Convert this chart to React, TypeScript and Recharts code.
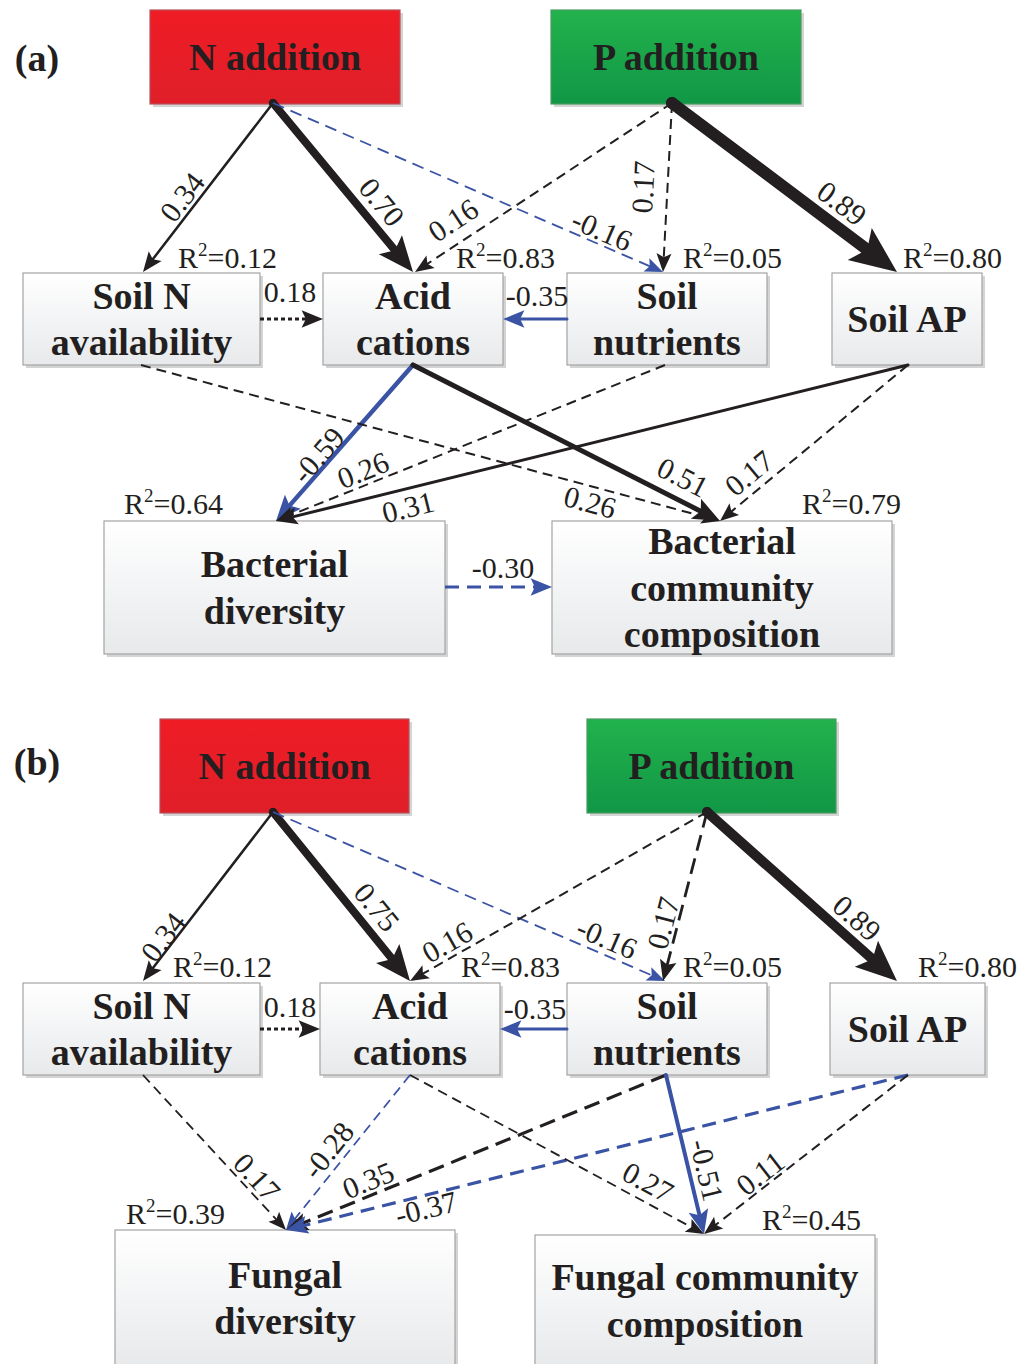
import {
  ScatterChart,
  Scatter,
  XAxis,
  YAxis,
  ReferenceArea,
  ReferenceLine,
  ReferenceDot,
} from "recharts";

const W = 1036;
const H = 1364;
const BLACK = "#231f20";
const BLUE = "#3a53a4";
const FONT = "'Liberation Serif', 'Times New Roman', serif";

type Path = { from: string; to: string; coef: number; sig: boolean };

// ---- values ----
const panelTags = ["(a)", "(b)"];

const nodeTextA: Record<string, string[]> = {
  N: ["N addition"],
  P: ["P addition"],
  SN: ["Soil N", "availability"],
  AC: ["Acid", "cations"],
  NU: ["Soil", "nutrients"],
  AP: ["Soil AP"],
  D: ["Bacterial", "diversity"],
  C: ["Bacterial", "community", "composition"],
};
const nodeTextB: Record<string, string[]> = {
  ...nodeTextA,
  D: ["Fungal", "diversity"],
  C: ["Fungal community", "composition"],
};

const r2Nodes = ["SN", "AC", "NU", "AP", "D", "C"];
const r2A = [0.12, 0.83, 0.05, 0.8, 0.64, 0.79];
const r2B = [0.12, 0.83, 0.05, 0.8, 0.39, 0.45];

const pathsA: Path[] = [
  { from: "N", to: "SN", coef: 0.34, sig: true },
  { from: "N", to: "AC", coef: 0.7, sig: true },
  { from: "N", to: "NU", coef: -0.16, sig: false },
  { from: "P", to: "AC", coef: 0.16, sig: false },
  { from: "P", to: "NU", coef: 0.17, sig: false },
  { from: "P", to: "AP", coef: 0.89, sig: true },
  { from: "SN", to: "AC", coef: 0.18, sig: false },
  { from: "NU", to: "AC", coef: -0.35, sig: true },
  { from: "AC", to: "D", coef: -0.59, sig: true },
  { from: "NU", to: "D", coef: 0.26, sig: false },
  { from: "AP", to: "D", coef: 0.31, sig: true },
  { from: "SN", to: "C", coef: 0.26, sig: false },
  { from: "AC", to: "C", coef: 0.51, sig: true },
  { from: "AP", to: "C", coef: 0.17, sig: false },
  { from: "D", to: "C", coef: -0.3, sig: false },
];

const pathsB: Path[] = [
  { from: "N", to: "SN", coef: 0.34, sig: true },
  { from: "N", to: "AC", coef: 0.75, sig: true },
  { from: "N", to: "NU", coef: -0.16, sig: false },
  { from: "P", to: "AC", coef: 0.16, sig: false },
  { from: "P", to: "NU", coef: 0.17, sig: false },
  { from: "P", to: "AP", coef: 0.89, sig: true },
  { from: "SN", to: "AC", coef: 0.18, sig: false },
  { from: "NU", to: "AC", coef: -0.35, sig: true },
  { from: "SN", to: "D", coef: 0.17, sig: false },
  { from: "AC", to: "D", coef: -0.28, sig: false },
  { from: "NU", to: "D", coef: 0.35, sig: false },
  { from: "AP", to: "D", coef: -0.37, sig: false },
  { from: "AC", to: "C", coef: 0.27, sig: false },
  { from: "NU", to: "C", coef: -0.51, sig: true },
  { from: "AP", to: "C", coef: 0.11, sig: false },
];

// ---- layout (diagram coordinates) ----
const tagPos = [
  [37, 58],
  [37, 762],
];

const boxesA: Record<string, number[]> = {
  N: [150, 400, 10, 104],
  P: [551, 801, 10, 104],
  SN: [23, 260, 273, 365],
  AC: [323, 503, 273, 365],
  NU: [567, 767, 273, 365],
  AP: [832, 982, 273, 365],
  D: [104, 445, 521, 654],
  C: [552, 892, 521, 654],
};
const boxesB: Record<string, number[]> = {
  N: [160, 409, 719, 813],
  P: [587, 836, 719, 813],
  SN: [23, 260, 983, 1075],
  AC: [320, 500, 983, 1075],
  NU: [567, 767, 983, 1075],
  AP: [830, 985, 983, 1075],
  D: [115, 455, 1230, 1366],
  C: [535, 875, 1235, 1366],
};

const r2PosA = [
  [178, 257],
  [456, 257],
  [683, 257],
  [903, 257],
  [124, 503],
  [802, 503],
];
const r2PosB = [
  [173, 966],
  [461, 966],
  [683, 966],
  [918, 966],
  [126, 1213],
  [762, 1219],
];

// x1, y1, x2, y2, label x, label y, stroke width, dash, start dot
type Geo = [number, number, number, number, number, number, number, string, boolean?];
const geoA: Geo[] = [
  [273, 103, 143, 272, 182, 197, 2.5, "", true],
  [273, 103, 413, 272, 382, 202, 8, ""],
  [273, 103, 663, 272, 602, 230, 1.8, "12 7"],
  [672, 103, 415, 272, 453, 220, 2, "10 6"],
  [672, 103, 663, 272, 643, 187, 2, "10 6"],
  [672, 103, 897, 272, 842, 203, 12, "", true],
  [260, 319, 323, 319, 290, 291, 3, "4 3"],
  [567, 319, 503, 319, 537, 295, 3, ""],
  [413, 365, 276, 521, 318, 455, 4.5, ""],
  [665, 365, 276, 521, 363, 470, 2, "10 6"],
  [908, 365, 276, 521, 408, 507, 3, ""],
  [141, 365, 720, 521, 590, 502, 2, "10 6"],
  [413, 365, 720, 521, 683, 477, 5, ""],
  [908, 365, 720, 521, 749, 473, 2, "10 6"],
  [445, 587, 552, 587, 503, 567, 3, "14 8"],
];
const geoB: Geo[] = [
  [273, 812, 143, 981, 163, 937, 2.5, "", true],
  [273, 812, 410, 981, 377, 907, 8, ""],
  [273, 812, 665, 981, 607, 938, 1.8, "12 7"],
  [707, 812, 410, 981, 447, 942, 2, "10 6"],
  [707, 812, 663, 981, 663, 923, 2.8, "16 8"],
  [707, 812, 897, 981, 857, 918, 10, "", true],
  [260, 1029, 320, 1029, 290, 1006, 3, "4 3"],
  [567, 1029, 500, 1029, 535, 1008, 3, ""],
  [143, 1075, 286, 1230, 257, 1177, 1.8, "10 6"],
  [410, 1075, 286, 1230, 328, 1150, 1.8, "10 6"],
  [666, 1075, 286, 1230, 368, 1180, 3.2, "16 8"],
  [908, 1075, 286, 1230, 426, 1208, 3.2, "14 8"],
  [410, 1075, 704, 1234, 648, 1182, 1.8, "10 6"],
  [666, 1075, 704, 1234, 707, 1170, 4, ""],
  [908, 1075, 704, 1234, 760, 1173, 2, "10 6"],
];

const fmt = (v: number) => (v < 0 ? "-" : "") + Math.abs(v).toFixed(2);

const readAngle = (dx: number, dy: number) => {
  let a = (Math.atan2(dy, dx) * 180) / Math.PI;
  if (a > 90) a -= 180;
  if (a <= -90) a += 180;
  return a;
};

const boxFill: Record<string, [string, string, string]> = {
  N: ["#ef1c25", "#df1f29", "#b4515a"],
  P: ["#22b24c", "#119746", "#4a9a62"],
};

const renderArrow = (p: any, g: Geo, color: string) => {
  const { x1, y1, x2, y2 } = p;
  const w = g[6];
  const dx = x2 - x1;
  const dy = y2 - y1;
  const len = Math.hypot(dx, dy);
  const ux = dx / len;
  const uy = dy / len;
  const nx = -uy;
  const ny = ux;
  const hl = 13 + 2.8 * w;
  const hw = 5 + 1.25 * w;
  const bx = x2 - ux * hl;
  const by = y2 - uy * hl;
  const kx = x2 - ux * hl * 0.8;
  const ky = y2 - uy * hl * 0.8;
  const pts = [
    [x2, y2],
    [bx + nx * hw, by + ny * hw],
    [kx, ky],
    [bx - nx * hw, by - ny * hw],
  ]
    .map((q) => q.join(","))
    .join(" ");
  return (
    <g>
      <line
        x1={x1}
        y1={y1}
        x2={kx + ux * 1}
        y2={ky + uy * 1}
        stroke={color}
        strokeWidth={w}
        strokeDasharray={g[7] || undefined}
        strokeLinecap={g[7] ? "butt" : "round"}
      />
      <polygon points={pts} fill={color} />
      {g[8] && <circle cx={x1} cy={y1} r={Math.max(4, w / 2)} fill={BLACK} />}
    </g>
  );
};

function panelElements(
  key: string,
  boxes: Record<string, number[]>,
  paths: Path[],
  geo: Geo[],
  r2: number[],
  r2Pos: number[][],
) {
  const out: any[] = [];
  Object.keys(boxes).forEach((id) => {
    const [x1, x2, y1, y2] = boxes[id];
    const fill = boxFill[id] || ["#ffffff", "#e7e9eb", "#a3a3a3"];
    const gid = `g-${key}-${id}`;
    out.push(
      <ReferenceArea
        key={`box-${key}-${id}`}
        x1={x1}
        x2={x2}
        y1={y1}
        y2={y2}
        ifOverflow="visible"
        shape={(p: any) => (
          <g>
            <defs>
              <linearGradient id={gid} x1="0" y1="0" x2="0" y2="1">
                <stop offset="0%" stopColor={fill[0]} />
                <stop offset="100%" stopColor={fill[1]} />
              </linearGradient>
            </defs>
            <rect x={p.x + 3} y={p.y + 3} width={p.width} height={p.height} fill="#d4d4d4" />
            <rect
              x={p.x}
              y={p.y}
              width={p.width}
              height={p.height}
              fill={`url(#${gid})`}
              stroke={fill[2]}
              strokeWidth={1.2}
            />
          </g>
        )}
      />,
    );
  });
  paths.forEach((pa, i) => {
    const g = geo[i];
    const color = pa.coef < 0 ? BLUE : BLACK;
    out.push(
      <ReferenceLine
        key={`ln-${key}-${i}`}
        segment={[
          { x: g[0], y: g[1] },
          { x: g[2], y: g[3] },
        ]}
        ifOverflow="visible"
        shape={(p: any) => renderArrow(p, g, color)}
      />,
    );
  });
  paths.forEach((pa, i) => {
    const g = geo[i];
    const ang = readAngle(g[2] - g[0], g[3] - g[1]);
    out.push(
      <ReferenceDot
        key={`lb-${key}-${i}`}
        x={g[4]}
        y={g[5]}
        ifOverflow="visible"
        shape={(p: any) => (
          <text
            x={p.cx}
            y={p.cy}
            transform={`rotate(${ang} ${p.cx} ${p.cy})`}
            textAnchor="middle"
            dominantBaseline="central"
            fontFamily={FONT}
            fontSize={30}
            fill={BLACK}
          >
            {fmt(pa.coef)}
          </text>
        )}
      />,
    );
  });
  r2.forEach((v, i) => {
    out.push(
      <ReferenceDot
        key={`r2-${key}-${r2Nodes[i]}`}
        x={r2Pos[i][0]}
        y={r2Pos[i][1]}
        ifOverflow="visible"
        shape={(p: any) => (
          <text x={p.cx} y={p.cy + 11} fontFamily={FONT} fontSize={30} fill={BLACK}>
            R
            <tspan dy={-12} fontSize={19}>
              2
            </tspan>
            <tspan dy={12}>={v.toFixed(2)}</tspan>
          </text>
        )}
      />,
    );
  });
  return out;
}

const nodeCenters = (
  text: Record<string, string[]>,
  boxes: Record<string, number[]>,
) =>
  Object.keys(boxes).map((id) => ({
    id,
    lines: text[id],
    x: (boxes[id][0] + boxes[id][1]) / 2,
    y: Math.min((boxes[id][2] + boxes[id][3]) / 2, boxes[id][2] + 68),
  }));

const nodeData = [
  ...nodeCenters(nodeTextA, boxesA),
  ...nodeCenters(nodeTextB, boxesB),
];

const NodeLabel = (p: any) => {
  const lines: string[] = p.payload.lines;
  const gap = 46.5;
  const top = p.cy - ((lines.length - 1) * gap) / 2;
  return (
    <g>
      {lines.map((t, i) => (
        <text
          key={i}
          x={p.cx}
          y={top + i * gap}
          textAnchor="middle"
          dominantBaseline="central"
          fontFamily={FONT}
          fontWeight="bold"
          fontSize={38}
          fill={BLACK}
        >
          {t}
        </text>
      ))}
    </g>
  );
};

export default function App() {
  return (
    <div style={{ position: "absolute", left: 0, top: 0, background: "#fff" }}>
      <ScatterChart width={W} height={H} margin={{ top: 0, right: 0, bottom: 0, left: 0 }}>
        <XAxis type="number" dataKey="x" domain={[0, W]} hide allowDataOverflow />
        <YAxis type="number" dataKey="y" domain={[0, H]} reversed hide allowDataOverflow />
        {panelElements("a", boxesA, pathsA, geoA, r2A, r2PosA)}
        {panelElements("b", boxesB, pathsB, geoB, r2B, r2PosB)}
        {panelTags.map((t, i) => (
          <ReferenceDot
            key={t}
            x={tagPos[i][0]}
            y={tagPos[i][1]}
            ifOverflow="visible"
            shape={(p: any) => (
              <text
                x={p.cx}
                y={p.cy}
                textAnchor="middle"
                dominantBaseline="central"
                fontFamily={FONT}
                fontWeight="bold"
                fontSize={38}
                fill={BLACK}
              >
                {t}
              </text>
            )}
          />
        ))}
        <Scatter data={nodeData} shape={NodeLabel} isAnimationActive={false} />
      </ScatterChart>
    </div>
  );
}
